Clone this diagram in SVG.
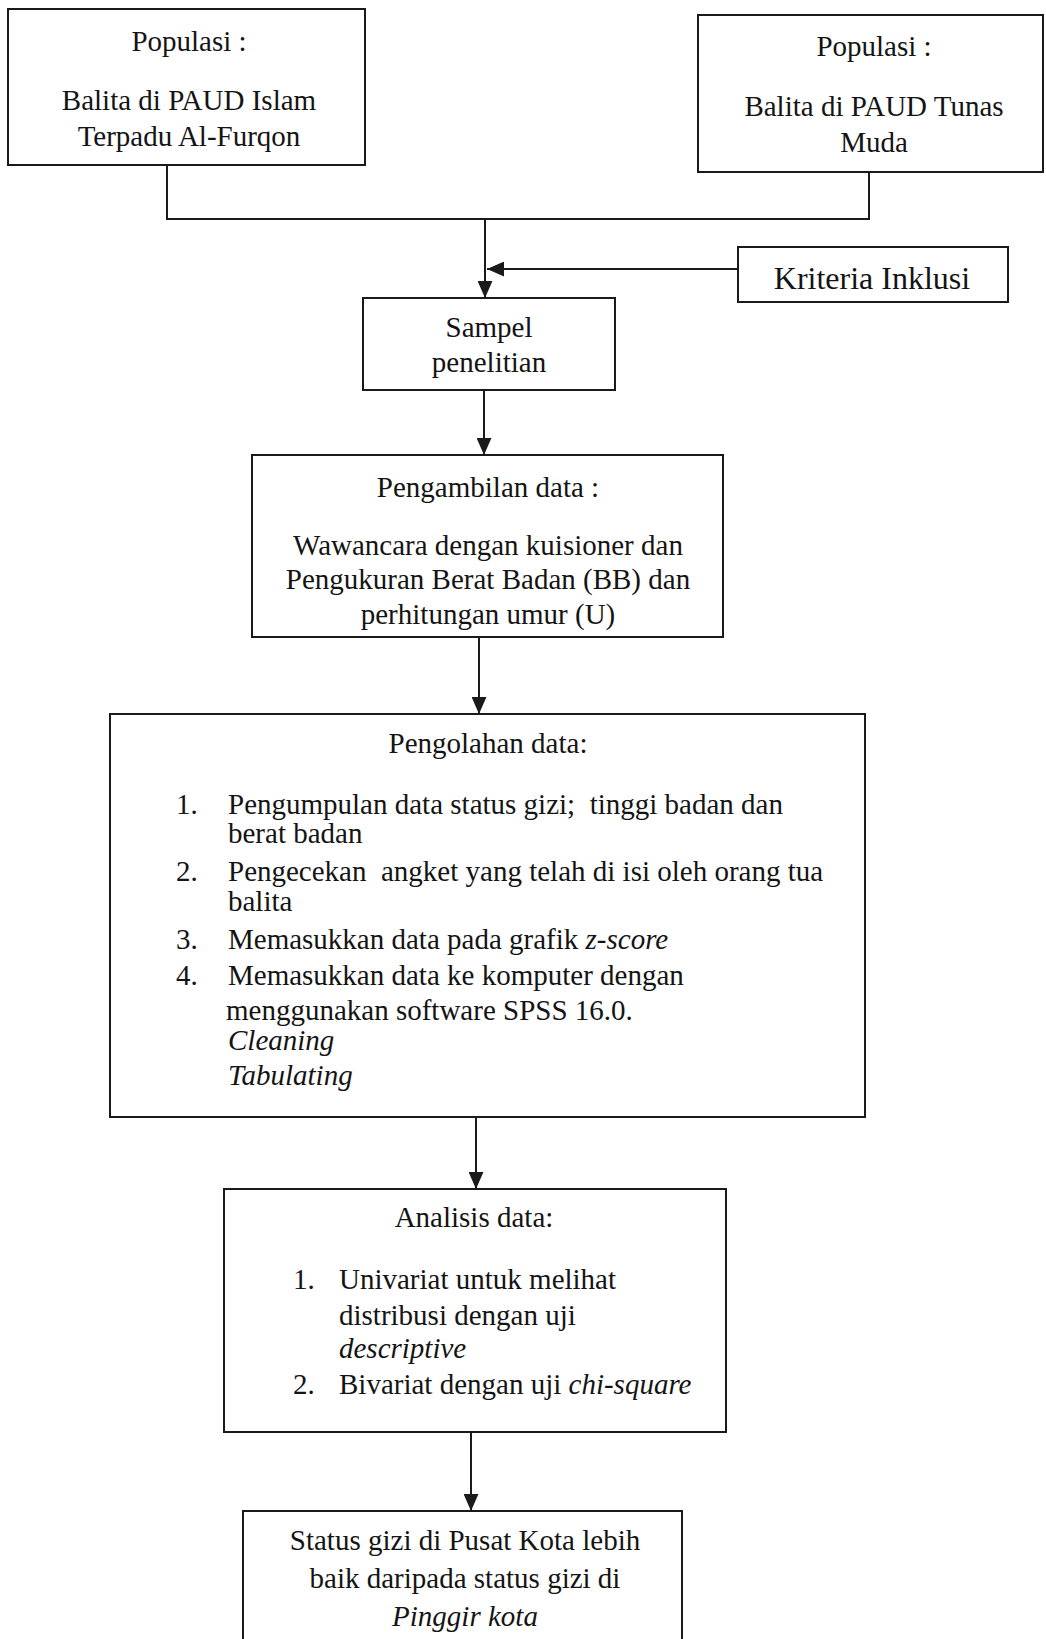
<svg xmlns="http://www.w3.org/2000/svg" width="1046" height="1639" viewBox="0 0 1046 1639">
<style>
.box{fill:#fff;stroke:#1a1a1a;stroke-width:2}
.t{font-family:"Liberation Serif","Times New Roman",serif;font-size:29px;fill:#141414}
.c{text-anchor:middle}
.i{font-style:italic}
.ln{fill:none;stroke:#1a1a1a;stroke-width:2}
</style>
<defs>
<marker id="ah" viewBox="0 0 16 14" refX="16" refY="7" markerWidth="17" markerHeight="15" markerUnits="userSpaceOnUse" orient="auto">
<path d="M0,0 L16,7 L0,14 z" fill="#1a1a1a"/>
</marker>
</defs>
<rect width="1046" height="1639" fill="#fff"/>

<g id="connectors">
<path class="ln" d="M167,165 V219 H869 V172"/>
<path class="ln" d="M485,219 V298" marker-end="url(#ah)"/>
<path class="ln" d="M738,269 H487" marker-end="url(#ah)"/>
<path class="ln" d="M484,390 V455" marker-end="url(#ah)"/>
<path class="ln" d="M479,637 V714" marker-end="url(#ah)"/>
<path class="ln" d="M476,1117 V1189" marker-end="url(#ah)"/>
<path class="ln" d="M471,1432 V1511" marker-end="url(#ah)"/>
</g>

<g id="populasi1">
<rect class="box" x="8" y="9" width="357" height="156"/>
<text class="t c" x="189" y="51">Populasi :</text>
<text class="t c" x="189" y="110">Balita di PAUD Islam</text>
<text class="t c" x="189" y="146">Terpadu Al-Furqon</text>
</g>

<g id="populasi2">
<rect class="box" x="698" y="15" width="345" height="157"/>
<text class="t c" x="874" y="56">Populasi :</text>
<text class="t c" x="874" y="116">Balita di PAUD Tunas</text>
<text class="t c" x="874" y="152">Muda</text>
</g>

<g id="kriteria">
<rect class="box" x="738" y="247" width="270" height="55"/>
<text class="t c" x="872" y="289" style="font-size:32px">Kriteria Inklusi</text>
</g>

<g id="sampel">
<rect class="box" x="363" y="298" width="252" height="92"/>
<text class="t c" x="489" y="337">Sampel</text>
<text class="t c" x="489" y="372">penelitian</text>
</g>

<g id="pengambilan">
<rect class="box" x="252" y="455" width="471" height="182"/>
<text class="t c" x="488" y="497">Pengambilan data :</text>
<text class="t c" x="488" y="555">Wawancara dengan kuisioner dan</text>
<text class="t c" x="488" y="589">Pengukuran Berat Badan (BB) dan</text>
<text class="t c" x="488" y="624">perhitungan umur (U)</text>
</g>

<g id="pengolahan">
<rect class="box" x="110" y="714" width="755" height="403"/>
<text class="t c" x="488" y="753">Pengolahan data:</text>
<text class="t" x="176" y="814">1.</text>
<text class="t" x="228" y="814" xml:space="preserve">Pengumpulan data status gizi;  tinggi badan dan</text>
<text class="t" x="228" y="843">berat badan</text>
<text class="t" x="176" y="881">2.</text>
<text class="t" x="228" y="881" xml:space="preserve">Pengecekan  angket yang telah di isi oleh orang tua</text>
<text class="t" x="228" y="911">balita</text>
<text class="t" x="176" y="949">3.</text>
<text class="t" x="228" y="949">Memasukkan data pada grafik <tspan class="i">z-score</tspan></text>
<text class="t" x="176" y="985">4.</text>
<text class="t" x="228" y="985">Memasukkan data ke komputer dengan</text>
<text class="t" x="226" y="1020">menggunakan software SPSS 16.0.</text>
<text class="t i" x="228" y="1050">Cleaning</text>
<text class="t i" x="228" y="1085">Tabulating</text>
</g>

<g id="analisis">
<rect class="box" x="224" y="1189" width="502" height="243"/>
<text class="t c" x="474" y="1227">Analisis data:</text>
<text class="t" x="293" y="1289">1.</text>
<text class="t" x="339" y="1289">Univariat untuk melihat</text>
<text class="t" x="339" y="1325">distribusi dengan uji</text>
<text class="t i" x="339" y="1358">descriptive</text>
<text class="t" x="293" y="1394">2.</text>
<text class="t" x="339" y="1394">Bivariat dengan uji <tspan class="i">chi-square</tspan></text>
</g>

<g id="status">
<rect class="box" x="243" y="1511" width="439" height="140"/>
<text class="t c" x="465" y="1550">Status gizi di Pusat Kota lebih</text>
<text class="t c" x="465" y="1588">baik daripada status gizi di</text>
<text class="t c i" x="465" y="1626">Pinggir kota</text>
</g>
</svg>
